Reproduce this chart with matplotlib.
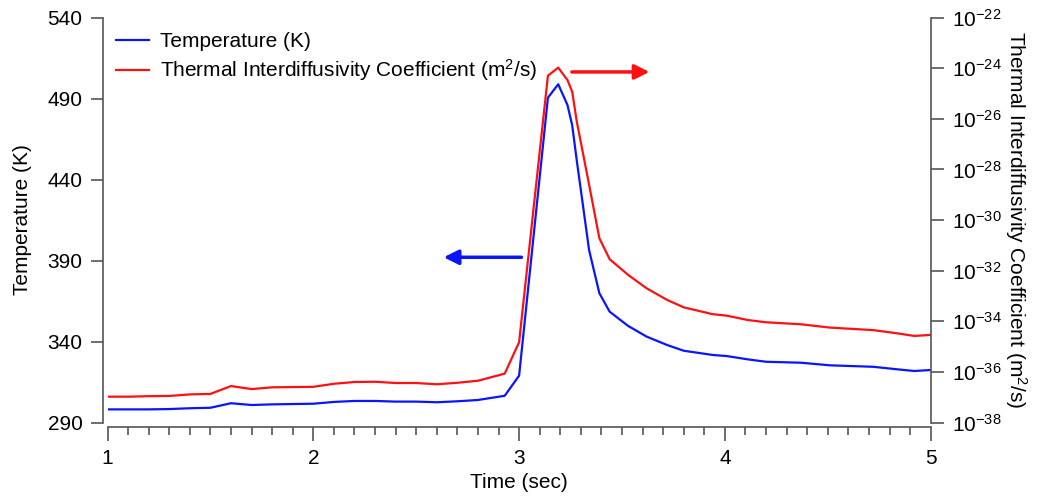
import matplotlib
matplotlib.use('Agg')
import numpy as np
import matplotlib.pyplot as plt

plt.rcParams['font.family'] = ['Liberation Sans', 'DejaVu Sans']
plt.rcParams['mathtext.fontset'] = 'custom'
plt.rcParams['mathtext.rm'] = 'Liberation Sans'
plt.rcParams['mathtext.it'] = 'Liberation Sans'
plt.rcParams['axes.unicode_minus'] = False

# data
time_s = [1.0, 1.1, 1.2, 1.3, 1.4, 1.5, 1.6, 1.7, 1.8, 1.9, 2.0, 2.1, 2.2, 2.3, 2.4, 2.5,
          2.6, 2.7, 2.8, 2.93, 3.0, 3.14, 3.19, 3.235, 3.258, 3.28, 3.34, 3.39, 3.44,
          3.53, 3.62, 3.72, 3.80, 3.94, 4.01, 4.11, 4.20, 4.37, 4.51, 4.72, 4.84, 4.92, 5.0]
temp_k = [298.1, 298.1, 298.1, 298.3, 298.8, 299.1, 301.9, 300.8, 301.2, 301.4, 301.6,
          302.7, 303.3, 303.3, 302.9, 302.9, 302.5, 303.1, 303.9, 306.5, 318.9, 490.5,
          498.8, 486.0, 473.5, 452.0, 396.5, 369.8, 358.4, 349.6, 343.0, 337.8, 334.3,
          331.7, 331.0, 329.0, 327.5, 326.9, 325.3, 324.4, 322.8, 321.8, 322.4]
coeff_log10 = [-36.98, -36.98, -36.96, -36.95, -36.89, -36.87, -36.56, -36.68, -36.61,
               -36.60, -36.59, -36.47, -36.40, -36.39, -36.44, -36.44, -36.49, -36.43,
               -36.35, -36.07, -34.83, -24.30, -23.98, -24.47, -24.93, -26.1, -28.6,
               -30.72, -31.55, -32.17, -32.70, -33.16, -33.45, -33.72, -33.78, -33.95,
               -34.04, -34.12, -34.25, -34.35, -34.48, -34.58, -34.54]
coeff = 10.0 ** np.array(coeff_log10)

temp_ticks = [290, 340, 390, 440, 490, 540]
coeff_ticks = [10.0 ** k for k in range(-38, -21, 2)]

blue = '#0a14ff'
red = '#ff1010'
axis_col = '#555555'
fs = 15

fig = plt.figure(figsize=(10.38, 4.99), dpi=100)
ax = fig.add_axes([0.1036, 0.1533, 0.793, 0.8116])
ax2 = ax.twinx()

l1, = ax.plot(time_s, temp_k, color=blue, lw=1.6, label='Temperature (K)')
l2, = ax2.plot(time_s, coeff, color=red, lw=1.6,
               label='Thermal Interdiffusivity Coefficient (m$^2$/s)')

ax.set_xlim(1, 5)
ax.set_ylim(290, 540)
ax2.set_yscale('log')
ax2.set_ylim(1e-38, 1e-22)

ax.set_xticks([1, 2, 3, 4, 5])
ax.set_xticks(np.arange(1, 5.01, 0.1), minor=True)
ax.set_yticks(temp_ticks)
ax2.set_yticks(coeff_ticks)
ax2.yaxis.set_minor_locator(matplotlib.ticker.NullLocator())

for a in (ax, ax2):
    for s in a.spines.values():
        s.set_color(axis_col)
        s.set_linewidth(1.2)
    a.spines['top'].set_visible(False)
ax.spines['right'].set_visible(False)
ax2.spines['left'].set_visible(False)
ax2.spines['bottom'].set_visible(False)
ax.spines['left'].set_position(('outward', 3))
ax.spines['bottom'].set_position(('outward', 3))

ax.tick_params(axis='x', which='major', length=10, width=1.2, color=axis_col,
               labelsize=fs, pad=6)
ax.tick_params(axis='x', which='minor', length=6, width=1.2, color=axis_col)
ax.tick_params(axis='y', length=9, width=1.2, color=axis_col, labelsize=fs, pad=6)
ax2.tick_params(axis='y', length=9, width=1.2, color=axis_col, labelsize=fs, pad=6)

ax.set_xlabel('Time (sec)', fontsize=fs, labelpad=4)
ax.set_ylabel('Temperature (K)', fontsize=fs, labelpad=11)
ax2.set_ylabel('Thermal Interdiffusivity Coefficient (m$^2$/s)', fontsize=fs,
               rotation=270, labelpad=20)

ax.legend(handles=[l1, l2], loc='upper left', frameon=False, fontsize=fs,
          handlelength=1.6, handletextpad=0.5, labelspacing=0.3,
          borderaxespad=0.0, bbox_to_anchor=(0.0, 0.985))

# direction arrows
ax.annotate('', xy=(2.62, 392), xytext=(3.025, 392),
            arrowprops=dict(arrowstyle='-|>', color=blue, lw=2.5, mutation_scale=22))
ax2.annotate('', xy=(3.647, 10 ** -24.15), xytext=(3.243, 10 ** -24.15),
             arrowprops=dict(arrowstyle='-|>', color=red, lw=2.5, mutation_scale=22))

fig.savefig('out.png', dpi=100)
